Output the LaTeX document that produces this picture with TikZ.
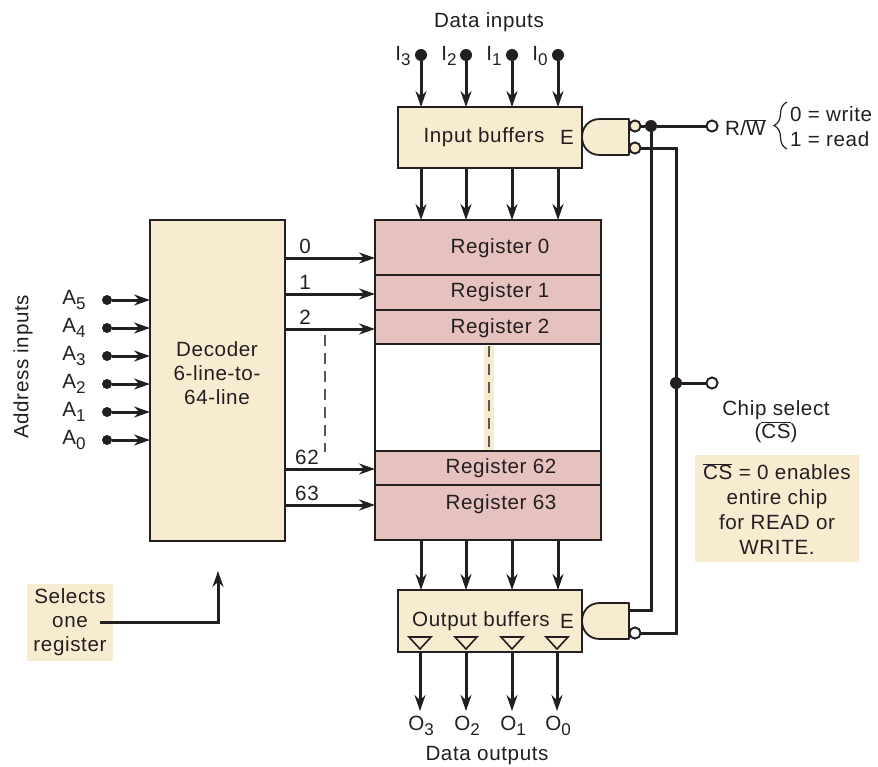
\documentclass[tikz,border=0pt]{standalone}
\usepackage{fontspec}
\setmainfont[LetterSpace=3]{Liberation Sans}
\usetikzlibrary{arrows.meta,decorations.pathreplacing}
\definecolor{ink}{HTML}{231F20}
\definecolor{cream}{HTML}{F8ECD0}
\definecolor{pinkreg}{HTML}{E6C2BE}
\newcommand{\barred}[1]{$\overline{\hbox{#1}}$}
\newcommand{\subs}[1]{\raisebox{-5pt}{\fontsize{17}{20}\selectfont #1}}
\tikzset{
  txt/.style={inner sep=0pt,outer sep=0pt,text=ink,font=\fontsize{20.6}{24}\selectfont,align=center},
  cbox/.style={draw=ink,line width=1.8pt,fill=cream,inner sep=0pt,outer sep=0pt,anchor=north west},
  regbox/.style={draw=ink,line width=1.8pt,fill=pinkreg,inner sep=0pt,outer sep=0pt,anchor=north west,minimum width=226pt},
  patch/.style={fill=cream,inner sep=0pt,outer sep=0pt,anchor=north west},
  wire/.style={draw=ink,line width=3pt},
  arr/.style={wire,-{Stealth[length=16pt,width=11pt]}},
  dotn/.style={circle,fill=ink,minimum size=12pt,inner sep=0pt,outer sep=0pt},
  opn/.style={circle,draw=ink,line width=1.8pt,fill=white,minimum size=11pt,inner sep=0pt,outer sep=0pt},
  bub/.style={circle,draw=ink,line width=1.8pt,fill=cream,minimum size=11pt,inner sep=0pt,outer sep=0pt},
  gate/.style={draw=ink,line width=1.8pt,fill=cream,line join=round},
  tri/.style={draw=ink,line width=1.6pt,fill=none},
  dsh/.style={draw=ink!75,line width=1.3pt,dash pattern=on 11pt off 7pt},
}
\begin{document}
\begin{tikzpicture}[x=1pt,y=-1pt]
\useasboundingbox (0,0) rectangle (878,766);

% boxes
\node[cbox,minimum width=184pt,minimum height=61pt] (ibuf) at (398,107) {};
\node[cbox,minimum width=184pt,minimum height=62pt] (obuf) at (398,590) {};
\node[cbox,minimum width=135pt,minimum height=321pt] (dec) at (150,220) {};
\node[regbox,minimum height=55pt] (r0) at (375,220) {};
\node[regbox,minimum height=35pt] (r1) at (375,275) {};
\node[regbox,minimum height=34pt] (r2) at (375,310) {};
\node[draw=ink,line width=1.8pt,fill=white,minimum width=226pt,minimum height=107pt,inner sep=0pt,outer sep=0pt,anchor=north west] (gap) at (375,344) {};
\node[regbox,minimum height=34pt] (r62) at (375,451) {};
\node[regbox,minimum height=55pt] (r63) at (375,485) {};
\node[patch,minimum width=10pt,minimum height=104pt] (strip) at (484,346) {};
\draw[dsh] (strip.north) -- (strip.south);
\node[patch,minimum width=86pt,minimum height=77pt] (sel) at (27,584) {};
\node[patch,minimum width=164pt,minimum height=107pt] (csb) at (695,455) {};

% box texts
\node[txt] (ibt) at (484,137) {Input buffers};
\node[txt] (ibe) at (567,137) {E};
\node[txt] (obt) at (481,621) {Output buffers};
\node[txt] (obe) at (567,621) {E};
\node[txt] (dect) at (217,373) {Decoder\\6-line-to-\\64-line};
\node[txt] (r0t) at (500,248) {Register 0};
\node[txt] (r1t) at (500,292) {Register 1};
\node[txt] (r2t) at (500,328) {Register 2};
\node[txt] (r62t) at (501,468) {Register 62};
\node[txt] (r63t) at (501,504) {Register 63};
\node[txt] (datain) at (489,22) {Data inputs};
\node[txt] (dataout) at (487,756) {Data outputs};
\node[txt,rotate=90] (addr) at (23,367) {Address inputs};
\node[txt] (selt) at (70,622) {Selects\\one\\register};
\node[txt] (cst) at (776,410) {Chip select};
\node[txt] (csn) at (776,432) {(\barred{CS})};
\node[txt] (cstxt) at (777,509) {\barred{CS} = 0 enables\\[1pt]entire chip\\[1pt]for READ or\\[1pt]WRITE.};
\node[txt,anchor=west] (rw) at (725,128) {R/\barred{W}};
\node[txt,anchor=west] (wr) at (790,114) {0 = write};
\node[txt,anchor=west] (rd) at (790,139) {1 = read};
\coordinate (bt) at (787,102);
\coordinate (bb) at (787,149);
\draw[draw=ink,line width=1.2pt,decorate,decoration={brace,amplitude=13pt}] (bb) -- (bt);

% data inputs, registers and outputs
\foreach \n/\x/\lx in {3/421/403,2/466/449,1/512/494,0/558/540}{
  \node[dotn] (i\n) at (\x,55) {};
  \node[txt] (il\n) at (\lx,56) {I\subs{\n}};
  \draw[arr] (i\n) -- (i\n |- ibuf.north);
  \coordinate (ib\n) at (\x,168);
  \draw[arr] (ib\n) -- (ib\n |- r0.north);
  \coordinate (rb\n) at (\x,540);
  \draw[arr] (rb\n) -- (rb\n |- obuf.north);
}
\foreach \n/\x in {3/420,2/466,1/512,0/557}{
  \coordinate (ot\n) at (\x,649);
  \draw[tri] (\x-11,637) -- (\x+11,637) -- (ot\n) -- cycle;
  \coordinate (ob\n) at (\x,652);
  \coordinate (oe\n) at (\x,711);
  \draw[arr] (ob\n) -- (oe\n);
  \node[txt] (ol\n) at (\x+1,726) {O\subs{\n}};
}

% address inputs
\foreach \n/\y in {5/300,4/328,3/356,2/384,1/412,0/440}{
  \node[dotn,minimum size=10pt] (a\n) at (107,\y) {};
  \node[txt] (al\n) at (74,\y) {A\subs{\n}};
  \draw[arr] (a\n) -- (a\n -| dec.west);
}

% decoder outputs
\foreach \n/\y/\lx/\tgt in {0/258/305/r0,1/294/305/r1,2/329/305/r2,62/469/307/r62,63/505/307/r63}{
  \coordinate (d\n) at (285,\y);
  \draw[arr] (d\n) -- (d\n -| \tgt.west);
  \node[txt] (dl\n) at (\lx,\y-12) {\n};
}
\coordinate (dsa) at (325,335);
\coordinate (dsb) at (325,452);
\draw[dsh] (dsa) -- (dsb);

% selects arrow
\coordinate (sela) at (100,622);
\coordinate (selc) at (218,622);
\coordinate (selb) at (218,571);
\draw[arr,line join=miter] (sela) -- (selc) -- (selb);

% wires behind the gates
\node[bub] (tb1) at (635,126) {};
\node[bub] (tb2) at (635,148) {};
\node[bub,fill=white] (bb2) at (635,633) {};
\coordinate (bo1) at (629,610);
\node[dotn] (jrw) at (651,126) {};
\node[dotn] (jcs) at (676,383) {};
\node[opn] (orw) at (712,126) {};
\node[opn] (ocs) at (712,383) {};
\draw[wire,line join=miter] (jrw) -- (orw);
\draw[wire,line join=miter] (jrw) -- (jrw |- bo1) -- (bo1);
\draw[wire,line join=miter] (tb2) -- (jcs |- tb2) -- (jcs |- bb2) -- (bb2);
\draw[wire] (jcs) -- (ocs);
\draw[wire] (tb1) -- (jrw);
\node[bub] at (tb1) {};
\node[bub] at (tb2) {};
\node[bub,fill=white] at (bb2) {};
\node[opn] at (orw) {};
\node[opn] at (ocs) {};

% gates
\draw[gate] (629,119) -- (600,119) .. controls (576,119) and (576,155) .. (600,155) -- (629,155) -- cycle;
\draw[gate] (629,603) -- (600,603) .. controls (576,603) and (576,639) .. (600,639) -- (629,639) -- cycle;
\end{tikzpicture}
\end{document}
